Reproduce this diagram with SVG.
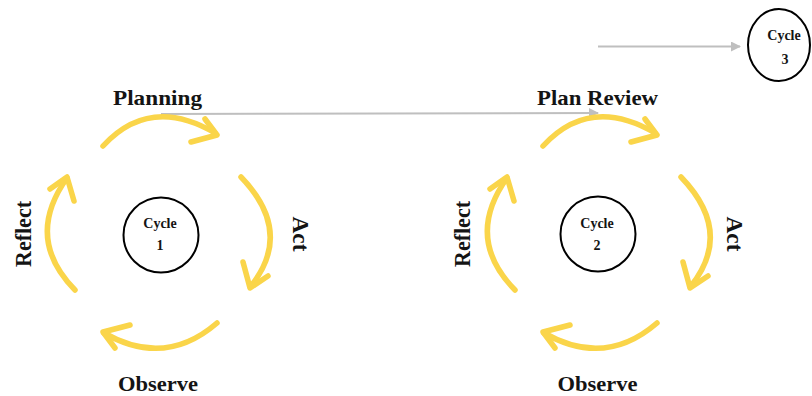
<svg xmlns="http://www.w3.org/2000/svg" xmlns:xlink="http://www.w3.org/1999/xlink" width="812" height="396" viewBox="0 0 812 396">
<style>
.lbl{font-family:"Liberation Serif","Times New Roman",serif;font-weight:bold;font-size:22px;fill:#141414;text-anchor:middle}
.vl{font-size:24px}
.cyc{font-family:"Liberation Serif","Times New Roman",serif;font-weight:bold;font-size:14px;fill:#141414;text-anchor:middle}
.ring{fill:none;stroke:#FAD54A;stroke-width:5.5;stroke-linecap:round;stroke-linejoin:round}
.node{fill:#fff;stroke:#000;stroke-width:2}
.conn{fill:none;stroke:#BFBFBF;stroke-width:2}
</style>
<defs>
<marker id="ah" viewBox="0 0 10 10" refX="9" refY="5" markerWidth="5" markerHeight="5" orient="auto">
<path d="M0,0 L10,5 L0,10 z" fill="#BFBFBF"/>
</marker>
<g id="ring">
<path class="ring" d="M103,146 Q150,95 215,133"/>
<path class="ring" d="M205,119 L217,135 L191,142"/>
<path class="ring" d="M241,177 Q294,232 251,286"/>
<path class="ring" d="M243,262 L250,288 L268,276"/>
<path class="ring" d="M217,323 Q165,368 104,333"/>
<path class="ring" d="M130,325 L103,332 L115,348"/>
<path class="ring" d="M75,290 Q24,238 67,178"/>
<path class="ring" d="M50,189 L67,177 L74,201"/>
</g>
</defs>
<g id="connectors">
<line class="conn" x1="161" y1="114" x2="598" y2="113" marker-end="url(#ah)"/>
<line class="conn" x1="598" y1="46.5" x2="740" y2="46.5" marker-end="url(#ah)"/>
</g>
<g id="cycle1-loop">
<use xlink:href="#ring"/>
<text class="lbl" x="157.5" y="105" textLength="89" lengthAdjust="spacingAndGlyphs">Planning</text>
<text class="lbl vl" transform="translate(293,234) rotate(90)" textLength="35" lengthAdjust="spacingAndGlyphs">Act</text>
<text class="lbl" x="158" y="391" textLength="80" lengthAdjust="spacingAndGlyphs">Observe</text>
<text class="lbl vl" transform="translate(31,234) rotate(-90)" textLength="66" lengthAdjust="spacingAndGlyphs">Reflect</text>
</g>
<g id="cycle1">
<circle class="node" cx="161" cy="235" r="37.5"/>
<text class="cyc" x="160" y="228">Cycle</text>
<text class="cyc" x="160" y="250">1</text>
</g>
<g id="cycle2-loop">
<use xlink:href="#ring" transform="translate(440,0)"/>
<text class="lbl" x="597.5" y="105" textLength="121" lengthAdjust="spacingAndGlyphs">Plan Review</text>
<text class="lbl vl" transform="translate(727,234) rotate(90)" textLength="35" lengthAdjust="spacingAndGlyphs">Act</text>
<text class="lbl" x="597.5" y="391" textLength="80" lengthAdjust="spacingAndGlyphs">Observe</text>
<text class="lbl vl" transform="translate(470,234) rotate(-90)" textLength="66" lengthAdjust="spacingAndGlyphs">Reflect</text>
</g>
<g id="cycle2">
<circle class="node" cx="598" cy="234" r="37.5"/>
<text class="cyc" x="597" y="228">Cycle</text>
<text class="cyc" x="597" y="250">2</text>
</g>
<g id="cycle3">
<ellipse class="node" cx="779" cy="45" rx="31" ry="36"/>
<text class="cyc" x="784" y="40">Cycle</text>
<text class="cyc" x="785" y="64">3</text>
</g>
</svg>
